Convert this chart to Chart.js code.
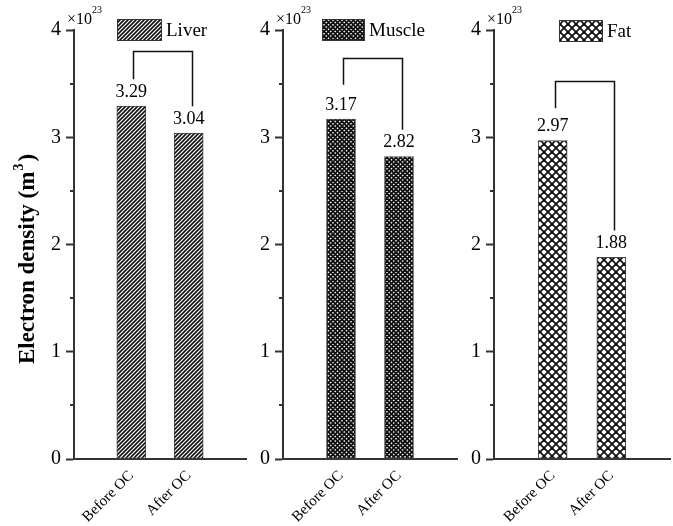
<!DOCTYPE html>
<html>
<head>
<meta charset="utf-8">
<script src="https://cdn.jsdelivr.net/npm/chart.js@4/dist/chart.umd.min.js"></script>
<style>
  html, body { margin: 0; padding: 0; background: #fff; }
  #wrap { position: relative; width: 673px; height: 526px; }
  #wrap canvas { position: absolute; left: 0; top: 0; }
</style>
</head>
<body>
<div id="wrap">
  <canvas id="c0" width="673" height="526"></canvas>
  <canvas id="c1" width="673" height="526"></canvas>
  <canvas id="c2" width="673" height="526"></canvas>
</div>
<script>
// ---- data (electron density, x10^23 m^-3) ----
const categories = ['', 'Before OC', 'After OC', ''];
const tissues = ['Liver', 'Muscle', 'Fat'];
const liverValues = [null, 3.29, 3.04, null];
const muscleValues = [null, 3.17, 2.82, null];
const fatValues = [null, 2.97, 1.88, null];
const yTickValues = [0, 1, 2, 3, 4];
// bracket levels: crossbar, left leg end, right leg end
const liverBracket = [3.80, 3.54, 3.29];
const muscleBracket = [3.74, 3.49, 3.07];
const fatBracket = [3.52, 3.27, 2.13];

const SERIF = '"Liberation Serif", "Times New Roman", serif';
const AXIS = '#333';
const INK = '#111';

// ---- fill patterns ----
function linePattern(size, period, width, dirs) {
  const c = document.createElement('canvas');
  c.width = size; c.height = size;
  const g = c.getContext('2d');
  g.fillStyle = '#fff';
  g.fillRect(0, 0, size, size);
  g.strokeStyle = INK;
  g.lineWidth = width;
  g.lineCap = 'square';
  for (let k = -size; k <= size; k += period) {
    if (dirs.includes('/')) {
      g.beginPath(); g.moveTo(k - 1, size + 1); g.lineTo(k + size + 1, -1); g.stroke();
    }
    if (dirs.includes('\\')) {
      g.beginPath(); g.moveTo(k - 1, -1); g.lineTo(k + size + 1, size + 1); g.stroke();
    }
  }
  return g.createPattern(c, 'repeat');
}
const patterns = {
  Liver: linePattern(4, 4, 1.6, ['/']),
  Muscle: linePattern(9, 4.5, 1.8, ['/', '\\']),
  Fat: linePattern(8, 8, 1.8, ['/', '\\'])
};

// ---- decorations drawn on each panel ----
const panelDecor = {
  id: 'panelDecor',
  afterDraw(chart, args, opts) {
    const ctx = chart.ctx;
    const ys = chart.scales.y;
    const ds = chart.data.datasets[0];
    const meta = chart.getDatasetMeta(0);
    const area = chart.chartArea;
    ctx.save();

    // minor ticks at half units
    ctx.strokeStyle = AXIS;
    ctx.lineWidth = 2;
    for (let i = 0; i < yTickValues.length - 1; i++) {
      const py = Math.round(ys.getPixelForValue((yTickValues[i] + yTickValues[i + 1]) / 2));
      ctx.beginPath(); ctx.moveTo(area.left - 4, py); ctx.lineTo(area.left, py); ctx.stroke();
    }

    // value labels above the bars
    ctx.fillStyle = '#000';
    ctx.font = '18px ' + SERIF;
    ctx.textAlign = 'center';
    ctx.textBaseline = 'middle';
    meta.data.forEach((bar, i) => {
      const v = ds.data[i];
      if (v == null) return;
      ctx.fillText(v.toFixed(2), bar.x, bar.y - 14);
    });

    // comparison bracket
    const [top, lEnd, rEnd] = opts.bracket;
    const xl = Math.round(meta.data[1].x) + 2.5;
    const xr = Math.round(meta.data[2].x) + 3.5;
    ctx.strokeStyle = INK;
    ctx.lineWidth = 1.5;
    ctx.lineCap = 'butt';
    ctx.beginPath();
    ctx.moveTo(xl, ys.getPixelForValue(lEnd));
    ctx.lineTo(xl, Math.round(ys.getPixelForValue(top)) + 0.5);
    ctx.lineTo(xr, Math.round(ys.getPixelForValue(top)) + 0.5);
    ctx.lineTo(xr, ys.getPixelForValue(rEnd));
    ctx.stroke();

    // legend box
    const lx = area.left + opts.legendDx, ly = opts.legendTop;
    ctx.fillStyle = ds.backgroundColor;
    ctx.fillRect(lx, ly, opts.legendW, 22);
    ctx.strokeStyle = AXIS;
    ctx.lineWidth = 1;
    ctx.strokeRect(lx + 0.5, ly + 0.5, opts.legendW - 1, 21);
    ctx.fillStyle = '#000';
    ctx.font = '19px ' + SERIF;
    ctx.textAlign = 'left';
    ctx.textBaseline = 'middle';
    ctx.fillText(ds.label, lx + opts.legendW + 4, ly + 12);

    // axis multiplier
    ctx.textBaseline = 'alphabetic';
    ctx.font = '16px ' + SERIF;
    const mx = area.left - 7;
    ctx.fillText('\u00d710', mx, 24);
    const mw = ctx.measureText('\u00d710').width;
    ctx.font = '10px ' + SERIF;
    ctx.fillText('23', mx + mw, 13);

    // y-axis title
    if (opts.title) {
      ctx.translate(28, 259);
      ctx.rotate(-Math.PI / 2);
      const big = 'bold 23px ' + SERIF, small = 'bold 14px ' + SERIF;
      const a = 'Electron density (m', c = ')';
      ctx.font = big;
      const wa = ctx.measureText(a).width, wc = ctx.measureText(c).width;
      ctx.font = small;
      const wb = ctx.measureText('3').width;
      const x0 = -(wa + wb + wc + 3) / 2;
      ctx.textAlign = 'left';
      ctx.textBaseline = 'middle';
      ctx.font = big;
      ctx.fillText(a, x0, 0);
      ctx.font = small;
      ctx.fillText('3', x0 + wa + 1, -9);
      ctx.font = big;
      ctx.fillText(c, x0 + wa + wb + 3, 0);
    }
    ctx.restore();
  }
};

function makePanel(id, name, values, bracket, left, right, legendDx, legendTop, legendW, title) {
  return new Chart(document.getElementById(id), {
    type: 'bar',
    data: {
      labels: categories,
      datasets: [{
        label: name,
        data: values,
        backgroundColor: patterns[name],
        borderColor: '#444',
        borderWidth: 1,
        borderSkipped: false,
        barThickness: 29
      }]
    },
    options: {
      responsive: false,
      animation: false,
      devicePixelRatio: 1,
      layout: { padding: { left: left - 40, right: 673 - right, top: 30, bottom: 0 } },
      plugins: {
        legend: { display: false },
        tooltip: { enabled: false },
        panelDecor: { bracket, legendDx, legendTop, legendW, title }
      },
      scales: {
        x: {
          offset: false,
          afterFit(s) { s.height = 67; s.paddingLeft = 0; s.paddingRight = 0; },
          grid: { display: false, drawTicks: false },
          border: { display: true, color: AXIS, width: 2 },
          ticks: {
            autoSkip: false, minRotation: 45, maxRotation: 45,
            color: '#000', padding: 8,
            font: { family: SERIF, size: 15 }
          }
        },
        y: {
          min: yTickValues[0],
          max: yTickValues[yTickValues.length - 1],
          afterFit(s) { s.width = 40; },
          afterBuildTicks(s) { s.ticks = yTickValues.map(v => ({ value: v })); },
          grid: { drawOnChartArea: false, drawTicks: true, tickLength: 8, tickWidth: 2, tickColor: AXIS },
          border: { display: true, color: AXIS, width: 2 },
          ticks: { color: '#000', padding: 5, font: { family: SERIF, size: 20 } }
        }
      }
    },
    plugins: [panelDecor]
  });
}

makePanel('c0', tissues[0], liverValues, liverBracket, 74, 246, 43, 19, 45, true);
makePanel('c1', tissues[1], muscleValues, muscleBracket, 283, 457, 39, 19, 43, false);
makePanel('c2', tissues[2], fatValues, fatBracket, 494, 670, 65, 20, 44, false);
</script>
</body>
</html>
